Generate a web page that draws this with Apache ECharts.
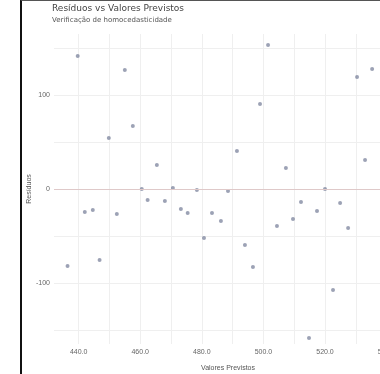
<!DOCTYPE html>
<html>
<head>
<meta charset="utf-8">
<script src="https://cdn.jsdelivr.net/npm/echarts@6/dist/echarts.min.js"></script>
<style>
  html, body { margin: 0; padding: 0; background: #fff; }
  #frame { position: absolute; left: 20px; top: 0; width: 358px; height: 373px;
           border-left: 2px solid #111; border-top: 1px solid #555; }
  #chart { width: 358px; height: 373px; }
</style>
</head>
<body>
<div id="frame"><div id="chart"></div></div>
<script>
// valores previstos (x) e residuos (y)
var previstos = [439.7, 455.0, 457.6, 449.8, 465.4, 501.5, 535.3, 530.4, 498.9, 491.4,
                 507.3, 533.0, 460.5, 470.6, 462.4, 468.0, 473.2, 475.4, 442.0, 444.6,
                 452.4, 446.8, 436.4, 478.4, 488.5, 520.0, 512.2, 524.9, 517.4, 483.3,
                 486.2, 509.6, 504.4, 527.5, 480.7, 494.0, 496.6, 522.6, 514.8];
var residuos = [141.5, 126.6, 67.0, 54.3, 25.5, 153.2, 127.7, 119.1, 90.4, 40.4,
                22.3, 30.9, 0.0, 1.1, -11.7, -12.8, -21.3, -25.5, -24.5, -22.3,
                -26.6, -75.5, -81.9, -1.1, -2.1, 0.0, -13.8, -14.9, -23.4, -25.5,
                -34.0, -31.9, -39.4, -41.5, -52.1, -59.6, -83.0, -107.4, -158.5];
var xTicks = [440, 460, 480, 500, 520, 540];
var xGrid = [440, 450, 460, 470, 480, 490, 500, 510, 520, 530, 540];
var yTicks = [-100, 0, 100];
var yGrid = [-150, -100, -50, 0, 50, 100, 150];

var pontos = previstos.map(function (x, i) { return [x, residuos[i]]; });

var chart = echarts.init(document.getElementById('chart'));
chart.setOption({
  backgroundColor: '#fff',
  animation: false,
  title: {
    text: 'Resíduos vs Valores Previstos',
    subtext: 'Verificação de homocedasticidade',
    left: 30,
    top: 3,
    padding: 0,
    itemGap: 4,
    textStyle: { fontSize: 9, fontWeight: 'normal', color: '#444', fontFamily: 'DejaVu Sans' },
    subtextStyle: { fontSize: 7, color: '#555', fontFamily: 'DejaVu Sans' }
  },
  grid: { left: 32, right: -22, top: 33, bottom: 30, outerBoundsMode: 'none' },
  xAxis: {
    type: 'value',
    min: 432,
    max: 545,
    name: 'Valores Previstos',
    nameLocation: 'middle',
    nameGap: 21,
    nameMoveOverlap: false,
    nameTextStyle: { fontSize: 7, color: '#555' },
    axisLine: { show: false },
    axisTick: { show: false, customValues: xGrid },
    axisLabel: { customValues: xTicks, fontSize: 7, color: '#666', margin: 5,
                 formatter: function (v) { return v.toFixed(1); } },
    splitLine: { lineStyle: { color: '#efefef', width: 1 } }
  },
  yAxis: {
    type: 'value',
    min: -165,
    max: 165,
    name: 'Resíduos',
    nameLocation: 'middle',
    nameGap: 21,
    nameMoveOverlap: false,
    nameTextStyle: { fontSize: 7, color: '#555' },
    axisLine: { show: false },
    axisTick: { show: false, customValues: yGrid },
    axisLabel: { customValues: yTicks, fontSize: 7, color: '#666', margin: 4 },
    splitLine: { lineStyle: { color: '#efefef', width: 1 } }
  },
  series: [{
    type: 'scatter',
    data: pontos,
    symbolSize: 4,
    itemStyle: { color: 'rgba(100,110,140,0.8)' },
    markLine: {
      silent: true,
      symbol: 'none',
      label: { show: false },
      lineStyle: { color: '#dfc9c9', type: 'solid', width: 1 },
      data: [{ yAxis: 0 }]
    }
  }]
});
</script>
</body>
</html>
